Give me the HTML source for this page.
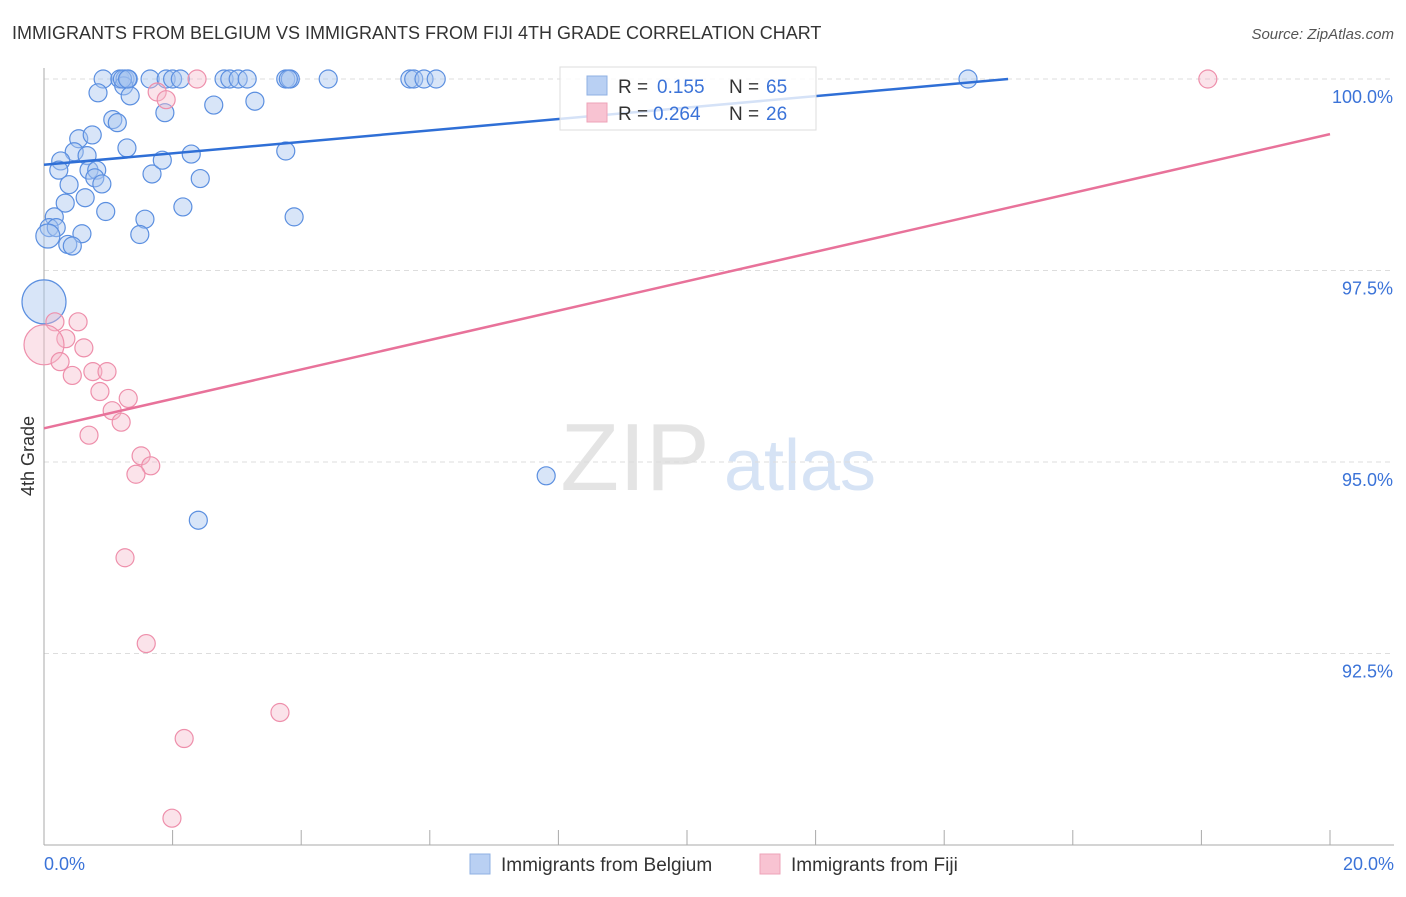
<!DOCTYPE html>
<html><head><meta charset="utf-8"><style>
body{margin:0;background:#fff;font-family:"Liberation Sans",sans-serif;}
svg text{font-family:"Liberation Sans",sans-serif;}
</style></head><body>
<svg id="chart" width="1406" height="892" xmlns="http://www.w3.org/2000/svg">
<text x="12" y="39" font-size="18" fill="#333">IMMIGRANTS FROM BELGIUM VS IMMIGRANTS FROM FIJI 4TH GRADE CORRELATION CHART</text>
<text x="1394" y="39" font-size="15" fill="#555" font-style="italic" text-anchor="end">Source: ZipAtlas.com</text>
<g>
<text x="635" y="490" font-size="96" fill="#e4e4e4" text-anchor="middle" font-family="Liberation Serif">ZIP</text>
<text x="800" y="490" font-size="72" fill="#d6e3f5" text-anchor="middle">atlas</text>
</g>
<g id="grid"></g>
<g id="axes"></g>
<g id="marks"></g>
<text transform="translate(34,456) rotate(-90)" font-size="18" fill="#333" text-anchor="middle">4th Grade</text>
<text x="44" y="870" font-size="18" fill="#3b73d8">0.0%</text>
<text x="1394" y="870" font-size="18" fill="#3b73d8" text-anchor="end">20.0%</text>
<g>
<rect x="560" y="67" width="256" height="63" fill="#fff" fill-opacity="0.8" stroke="#ddd"/>
<rect x="587" y="76" width="20" height="19" fill="#b9d0f3" stroke="#8fb0e3"/>
<rect x="587" y="103" width="20" height="19" fill="#f8c3d2" stroke="#eea3b8"/>
<text x="618" y="93" font-size="19" fill="#333">R = </text><text x="657" y="93" font-size="19" fill="#3b73d8">0.155</text>
<text x="729" y="93" font-size="19" fill="#333">N = </text><text x="766" y="93" font-size="19" fill="#3b73d8">65</text>
<text x="618" y="120" font-size="19" fill="#333">R = </text><text x="653" y="120" font-size="19" fill="#3b73d8">0.264</text>
<text x="729" y="120" font-size="19" fill="#333">N = </text><text x="766" y="120" font-size="19" fill="#3b73d8">26</text>
</g>
<g>
<rect x="470" y="854" width="20" height="20" fill="#b9d0f3" stroke="#8fb0e3"/>
<text x="501" y="871" font-size="19" fill="#333">Immigrants from Belgium</text>
<rect x="760" y="854" width="20" height="20" fill="#f8c3d2" stroke="#eea3b8"/>
<text x="791" y="871" font-size="19" fill="#333">Immigrants from Fiji</text>
</g>
</svg>
<script>
const yTicks=[100,97.5,95,92.5];
const yTickLabels=["100.0%","97.5%","95.0%","92.5%"];
const xTicks=[0,2,4,6,8,10,12,14,16,18,20];
const belgiumX=[0.92,1.18,1.26,1.31,1.65,1.90,2.0,2.12,2.8,2.89,3.02,3.16,3.76,3.83,4.42,5.69,5.75,5.91,6.10,14.37,
0.84,1.24,1.34,1.88,2.64,3.28,1.07,1.14,0.54,0.75,1.29,0.47,0.67,0.26,0.23,0.70,0.82,0.79,0.90,0.39,1.68,1.84,2.29,2.43,3.76,0.64,0.33,0.96,0.16,2.16,1.57,3.89,0.08,0.19,0.59,1.49,0.37,0.44,0.06,0.0,7.81,2.40,1.22,1.30,3.80];
const belgiumY=[100,100,100,100,100,100,100,100,100,100,100,100,100,100,100,100,100,100,100,100,
99.82,99.91,99.78,99.56,99.66,99.71,99.47,99.43,99.22,99.27,99.10,99.05,99.0,98.93,98.81,98.81,98.81,98.71,98.63,98.62,98.76,98.94,99.02,98.70,99.06,98.45,98.38,98.27,98.20,98.33,98.17,98.20,98.06,98.06,97.98,97.97,97.84,97.82,97.95,97.09,94.82,94.24,100,100,100];
const belgiumR=[9,9,9,9,9,9,9,9,9,9,9,9,9,9,9,9,9,9,9,9,9,9,9,9,9,9,9,9,9,9,9,9,9,9,9,9,9,9,9,9,9,9,9,9,9,9,9,9,9,9,9,9,9,9,9,9,9,9,12,22,9,9,9,9,9];
const fijiX=[1.76,1.90,2.38,18.10,0.17,0.53,0.34,0.62,0.0,0.25,0.76,0.98,0.44,0.87,1.31,1.06,1.20,0.70,1.51,1.66,1.43,1.26,1.59,3.67,2.18,1.99];
const fijiY=[99.83,99.73,100,100,96.83,96.83,96.61,96.49,96.53,96.31,96.18,96.18,96.13,95.92,95.83,95.67,95.52,95.35,95.08,94.95,94.84,93.75,92.63,91.73,91.39,90.35];
const fijiR=[9,9,9,9,9,9,9,9,20,9,9,9,9,9,9,9,9,9,9,9,9,9,9,9,9,9];
const trendIntercept=[98.88,95.44];
const trendSlope=[0.0747,0.192];
const X0=44,X1=1330,Y0=845,Y1=79;
const sx=v=>X0+(v-0)/(20-0)*(X1-X0);
const sy=v=>Y0-(v-90)/(100-90)*(Y0-Y1);
const NS="http://www.w3.org/2000/svg";
function mk(tag,attrs,parent){const e=document.createElementNS(NS,tag);for(const k in attrs)e.setAttribute(k,attrs[k]);parent.appendChild(e);return e;}
const grid=document.getElementById('grid'),axes=document.getElementById('axes'),marks=document.getElementById('marks');
yTicks.forEach((t,i)=>{
 const l=mk('line',{x1:X0,x2:1394,y1:sy(t),y2:sy(t),stroke:'#ddd','stroke-dasharray':'5,4'},grid);
 
 
 const tx=mk('text',{x:1393,y:sy(t)+24,'font-size':18,fill:'#3b73d8','text-anchor':'end'},grid);
 tx.textContent=yTickLabels[i];
 
 
});
const ax=mk('line',{x1:X0,x2:X0,y1:68,y2:Y0,stroke:'#aaa'},axes);


const bx=mk('line',{x1:X0,x2:1394,y1:Y0,y2:Y0,stroke:'#aaa'},axes);


xTicks.forEach(t=>{
 const l=mk('line',{x1:sx(t),x2:sx(t),y1:830,y2:Y0,stroke:'#aaa'},axes);
 
 
});
belgiumX.forEach((v,i)=>{
 const c=mk('circle',{cx:sx(v),cy:sy(belgiumY[i]),r:belgiumR[i],fill:'#a9c6f0','fill-opacity':0.45,stroke:'#5b8fe0','stroke-width':1.2},marks);
 
 
});
fijiX.forEach((v,i)=>{
 const c=mk('circle',{cx:sx(v),cy:sy(fijiY[i]),r:fijiR[i],fill:'#f6b8ca','fill-opacity':0.4,stroke:'#ee8fab','stroke-width':1.2},marks);
 
 
});
const xEndB=Math.min(20,(100-trendIntercept[0])/trendSlope[0]);
const tb=mk('line',{x1:sx(0),y1:sy(trendIntercept[0]),x2:sx(xEndB),y2:sy(trendIntercept[0]+trendSlope[0]*xEndB),stroke:'#2f6fd6','stroke-width':2.5},marks);


const tf=mk('line',{x1:sx(0),y1:sy(trendIntercept[1]),x2:sx(20),y2:sy(trendIntercept[1]+trendSlope[1]*20),stroke:'#e8729a','stroke-width':2.5},marks);


</script>
</body></html>
